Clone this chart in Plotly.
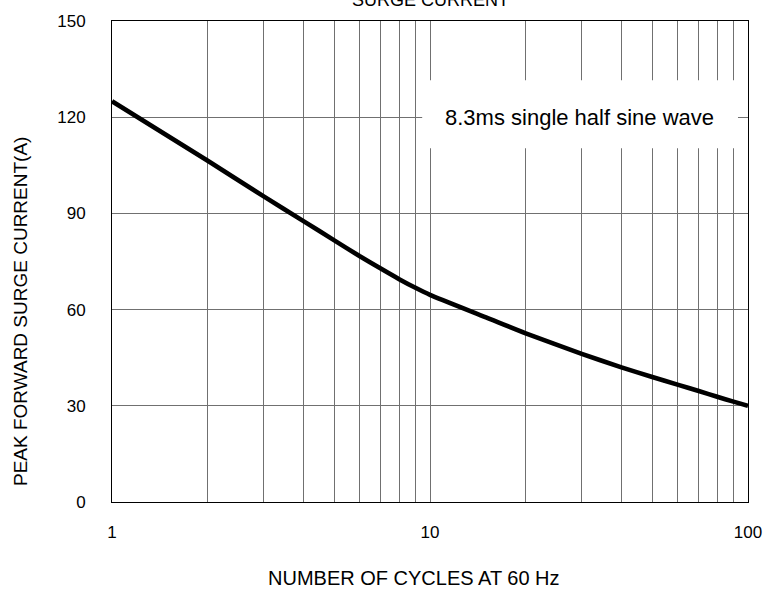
import math
import plotly.graph_objects as go

# Data
cycles = [1, 2, 3, 4, 5, 6, 7, 8, 9, 10, 15, 20, 30, 40, 50, 60, 70, 80, 90, 100]
current = [125.0, 106.4, 95.3, 87.6, 81.6, 76.7, 72.8, 69.5, 66.8, 64.6,
           57.6, 52.6, 46.2, 42.0, 39.0, 36.6, 34.6, 32.8, 31.3, 30.0]

x_tickvals = [1, 2, 3, 4, 5, 6, 7, 8, 9, 10, 20, 30, 40, 50, 60, 70, 80, 90, 100]
x_ticktext = ["1", "", "", "", "", "", "", "", "", "10", "", "", "", "", "", "", "", "", "100"]
y_tickvals = [0, 30, 60, 90, 120, 150]

box_x = [9.45, 93]
box_y = [110.3, 131.5]

FONT = "Liberation Sans, Arial, sans-serif"

fig = go.Figure()
fig.add_trace(go.Scatter(
    x=cycles, y=current, mode="lines",
    line=dict(color="black", width=4.6, shape="spline", smoothing=0.6),
    hoverinfo="skip", showlegend=False))

# white label box covering gridlines
fig.add_shape(type="rect", xref="x", yref="y",
              x0=box_x[0], x1=box_x[1], y0=box_y[0], y1=box_y[1],
              fillcolor="white", line=dict(width=0), layer="above")

fig.add_annotation(x=math.log10(29.5), y=120, xref="x", yref="y",
                   text="8.3ms single half sine wave", showarrow=False,
                   font=dict(size=22, color="black", family=FONT))

fig.add_annotation(x=0.5, y=1, xref="paper", yref="paper", yanchor="bottom",
                   yshift=9, text="SURGE CURRENT", showarrow=False,
                   font=dict(size=18, color="black", family=FONT))

fig.add_annotation(x=0.475, y=0, xref="paper", yref="paper", yanchor="middle",
                   yshift=-76, text="NUMBER OF CYCLES AT 60 Hz", showarrow=False,
                   font=dict(size=20, color="black", family=FONT))

fig.add_annotation(x=0, y=0.395, xref="paper", yref="paper", xanchor="center",
                   xshift=-92, text="PEAK FORWARD SURGE CURRENT(A)", showarrow=False,
                   textangle=-90,
                   font=dict(size=19, color="black", family=FONT))

fig.update_xaxes(type="log", range=[0, 2], tickvals=x_tickvals, ticktext=x_ticktext,
                 showgrid=True, gridcolor="#707070", gridwidth=1,
                 showline=True, linecolor="black", linewidth=1, mirror=True,
                 ticks="", ticklabelstandoff=15, automargin=False,
                 tickfont=dict(size=17, color="black", family=FONT))
fig.update_yaxes(range=[0, 150], tickvals=y_tickvals,
                 showgrid=True, gridcolor="#707070", gridwidth=1,
                 zeroline=False,
                 showline=True, linecolor="black", linewidth=1, mirror=True,
                 ticks="", ticklabelstandoff=22, automargin=False,
                 tickfont=dict(size=17, color="black", family=FONT))

fig.update_layout(width=766, height=589,
                  margin=dict(l=112, r=18, t=21, b=87),
                  paper_bgcolor="white", plot_bgcolor="white",
                  font=dict(family=FONT, color="black"))

fig.write_html("out.html", config={"displayModeBar": False},
               post_script="document.body.style.margin='0';document.body.style.overflow='hidden';")
